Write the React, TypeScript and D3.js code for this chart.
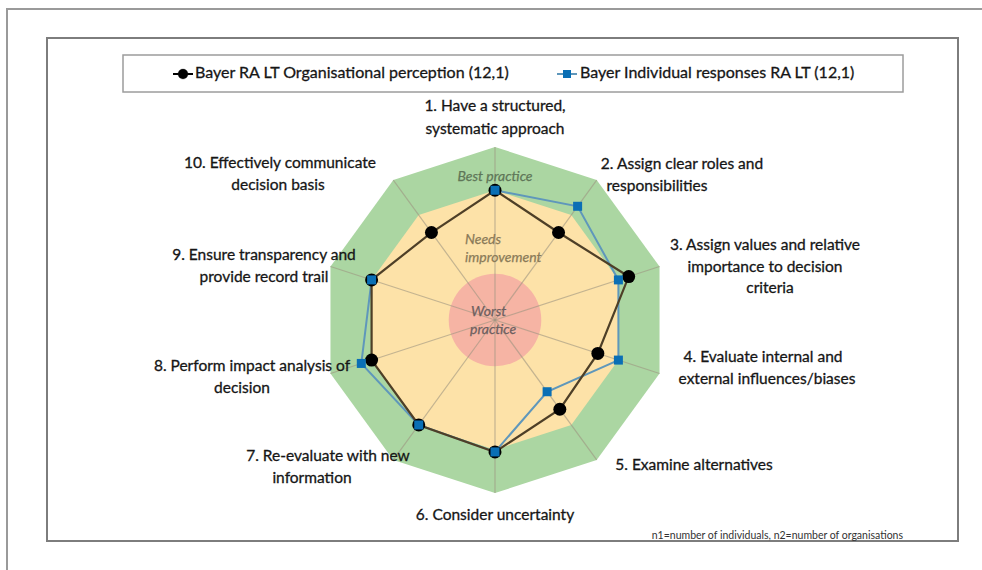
import React from 'react';
import * as d3 from 'd3';

// ten decision-quality elements, clockwise from the top
const axisLabels: string[][] = [
  ['1. Have a structured,', 'systematic approach'],
  ['2. Assign clear roles and', 'responsibilities'],
  ['3. Assign values and relative', 'importance to decision', 'criteria'],
  ['4. Evaluate internal and', 'external influences/biases'],
  ['5. Examine alternatives'],
  ['6. Consider uncertainty'],
  ['7. Re-evaluate with new', 'information'],
  ['8. Perform impact analysis of', 'decision'],
  ['9. Ensure transparency and', 'provide record trail'],
  ['10. Effectively communicate', 'decision basis'],
];

const orgPerception: number[] = [3.0, 2.5, 3.25, 2.5, 2.55, 3.05, 3.0, 3.0, 3.0, 2.5];
const individualResponses: (number | null)[] = [3.0, 3.25, 3.0, 3.0, 2.05, 3.05, 3.0, 3.25, 3.0, null];

const seriesNames = [
  'Bayer RA LT Organisational perception (12,1)',
  'Bayer Individual responses RA LT (12,1)',
];

// background zones (value on the radial scale)
const bestPracticeLevel = 4;
const needsImprovementLevel = 3;
const worstPracticeLevel = 1.07;

const footnote = 'n1=number of individuals, n2=number of organisations';

// label line positions (text layout only)
const labelPos: [number, number][][] = [
  [[495, 107], [495, 130]],
  [[682, 165], [657, 187]],
  [[765, 246], [765, 268], [770, 289]],
  [[763, 358], [767, 380]],
  [[694, 466]],
  [[495, 516]],
  [[328, 457], [312, 479]],
  [[252, 367], [242, 389]],
  [[264, 256], [264, 278]],
  [[280, 164], [278, 186]],
];

const W = 982, H = 570;
const cx = 495, cy = 320;
const font = 'Lato, "Open Sans", sans-serif';

export default function App() {
  const n = axisLabels.length;
  const r = d3.scaleLinear().domain([0, 4]).range([0, 173]);
  const angle = (i: number) => (i * 2 * Math.PI) / n;
  const pt = (i: number, v: number): [number, number] => [
    cx + r(v) * Math.sin(angle(i)),
    cy - r(v) * Math.cos(angle(i)),
  ];

  const ring = (v: number) =>
    d3.line().curve(d3.curveLinearClosed)(d3.range(n).map(i => pt(i, v))) as string;

  const blackPath = d3.lineRadial<number>()
    .angle((_, i) => angle(i))
    .radius(d => r(d))
    .curve(d3.curveLinearClosed)(orgPerception) as string;
  // gap where a value is missing, so the loop is not closed across it
  const bluePath = d3.lineRadial<number | null>()
    .angle((_, i) => angle(i % n))
    .radius(d => r(d as number))
    .defined(d => d != null)([...individualResponses, individualResponses[0]]) as string;

  const blackLine = '#4e3f27';
  const blueLine = '#5f97bb';
  const blueMark = '#0a6fb5';
  const ink = '#161616';

  return (
    <svg width={W} height={H} style={{ display: 'block' }}>
      <style>{'body{margin:0}'}</style>
      <rect width={W} height={H} fill="#fff" />
      {/* outer page frame */}
      <path d={`M7,${H} V9 H${W}`} fill="none" stroke="#9a9a9a" strokeWidth={2} />
      {/* chart area */}
      <rect x={47} y={38} width={911} height={503} fill="#fff" stroke="#7d7d7d" strokeWidth={2} />

      {/* legend */}
      <rect x={123} y={55} width={780} height={37} fill="#fff" stroke="#9c9c9c" strokeWidth={1.5} />
      <g fontFamily={font} fontSize={16} fill={ink} stroke={ink} strokeWidth={0.3}>
        <line x1={173} x2={193} y1={74} y2={74} stroke="#000" strokeWidth={2} />
        <circle cx={183} cy={74} r={5} fill="#000" />
        <text x={195} y={74} dominantBaseline="middle">{seriesNames[0]}</text>
        <line x1={557} x2={577} y1={74} y2={74} stroke={blueLine} strokeWidth={2} />
        <rect x={563} y={70} width={8} height={8} fill={blueMark} stroke="none" />
        <text x={580} y={74} dominantBaseline="middle">{seriesNames[1]}</text>
      </g>

      {/* zones */}
      <path d={ring(bestPracticeLevel)} fill="#abd6a2" />
      <path d={ring(needsImprovementLevel)} fill="#fde2a8" />
      <circle cx={cx} cy={cy} r={r(worstPracticeLevel)} fill="#f6b4a4" />

      {/* spokes */}
      {d3.range(n).map(i => {
        const [x, y] = pt(i, bestPracticeLevel);
        return <line key={i} x1={cx} y1={cy} x2={x} y2={y} stroke="#9c9480" strokeOpacity={0.6} strokeWidth={1.2} />;
      })}

      <g fontFamily={font} fontStyle="italic" fontSize={14} textAnchor="start" strokeWidth={0.25}>
        <text x={cx} y={177} dominantBaseline="middle" fill="#5f7658" stroke="#5f7658" textAnchor="middle">Best practice</text>
        <text x={465} y={240} dominantBaseline="middle" fill="#8a7a58" stroke="#8a7a58">Needs</text>
        <text x={465} y={258} dominantBaseline="middle" fill="#8a7a58" stroke="#8a7a58">improvement</text>
        <text x={471} y={312} dominantBaseline="middle" fill="#6d5f60" stroke="#6d5f60">Worst</text>
        <text x={470} y={330} dominantBaseline="middle" fill="#6d5f60" stroke="#6d5f60">practice</text>
      </g>

      {/* series */}
      <g transform={`translate(${cx},${cy})`}>
        <path d={bluePath} fill="none" stroke={blueLine} strokeWidth={2} />
        <path d={blackPath} fill="none" stroke={blackLine} strokeWidth={2.2} />
      </g>
      {orgPerception.map((v, i) => {
        const [x, y] = pt(i, v);
        return <circle key={'b' + i} cx={x} cy={y} r={6.5} fill="#000" />;
      })}
      {individualResponses.map((v, i) => {
        if (v == null) return null;
        const [x, y] = pt(i, v);
        return <rect key={'s' + i} x={x - 4.5} y={y - 4.5} width={9} height={9} fill={blueMark} />;
      })}

      {/* axis labels */}
      <g fontFamily={font} fontSize={15.5} fill={ink} stroke={ink} strokeWidth={0.3} textAnchor="middle">
        {axisLabels.map((lines, i) =>
          lines.map((s, j) => (
            <text key={i + '-' + j} x={labelPos[i][j][0]} y={labelPos[i][j][1]} dominantBaseline="middle">{s}</text>
          ))
        )}
      </g>

      <text x={903} y={536} fontFamily={font} fontSize={10.5} fill="#333" textAnchor="end" dominantBaseline="middle">{footnote}</text>
    </svg>
  );
}
